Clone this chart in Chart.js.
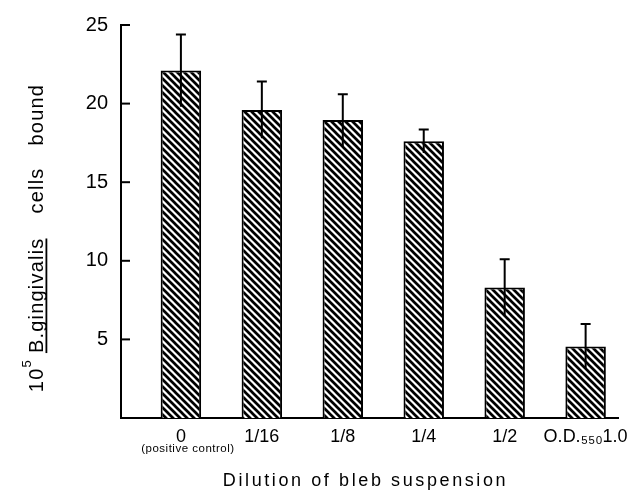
<!DOCTYPE html>
<html>
<head>
<meta charset="utf-8">
<style>
  html, body { margin: 0; padding: 0; background: #fff; }
  #wrap { width: 635px; height: 492px; }
</style>
</head>
<body>
<div id="wrap"><canvas id="chart" width="635" height="492"></canvas></div>
<script src="https://cdn.jsdelivr.net/npm/chart.js@4.4.1/dist/chart.umd.min.js"></script>
<script>
// values
var categories = ['0', '1/16', '1/8', '1/4', '1/2', 'O.D.\u2085\u2085\u20801.0'];
var subLabel = '(positive control)';
var means = [22.1, 19.6, 18.95, 17.6, 8.3, 4.55];
var errors = [2.3, 1.8, 1.65, 0.75, 1.8, 1.43];
var yTitleParts = ['10', '5', 'B.gingivalis', 'cells', 'bound'];
var xTitle = 'Dilution of bleb suspension';

var FONT = '"Liberation Sans", Arial, Helvetica, sans-serif';

function hatch() {
    var c = document.createElement('canvas');
    c.width = 7; c.height = 7;
    var g = c.getContext('2d');
    g.fillStyle = '#fff';
    g.fillRect(0, 0, 7, 7);
    g.strokeStyle = '#000';
    g.lineWidth = 2.7;
    g.beginPath();
    g.moveTo(-2, -2); g.lineTo(9, 9);
    g.moveTo(-9, -2); g.lineTo(2, 9);
    g.moveTo(5, -2); g.lineTo(16, 9);
    g.stroke();
    return g.createPattern(c, 'repeat');
}

var extras = {
    id: 'extras',
    afterDatasetsDraw: function(chart) {
        var ctx = chart.ctx, x = chart.scales.x, y = chart.scales.y;
        ctx.save();
        ctx.strokeStyle = '#000';
        ctx.lineWidth = 2;
        // error bars, cap on top only
        means.forEach(function(m, i) {
            var px = x.getPixelForValue(i);
            var top = y.getPixelForValue(m + errors[i]);
            var bot = y.getPixelForValue(m - errors[i]);
            ctx.beginPath();
            ctx.moveTo(px, bot); ctx.lineTo(px, top);
            ctx.moveTo(px - 5, top); ctx.lineTo(px + 5, top);
            ctx.stroke();
        });
        // inward y ticks
        y.ticks.forEach(function(t) {
            if (t.value === 0) return;
            var py = y.getPixelForValue(t.value);
            ctx.beginPath();
            ctx.moveTo(chart.chartArea.left, py);
            ctx.lineTo(chart.chartArea.left + 9, py);
            ctx.stroke();
        });
        ctx.restore();
    },
    afterDraw: function(chart) {
        var ctx = chart.ctx, x = chart.scales.x, area = chart.chartArea;
        ctx.save();
        ctx.fillStyle = '#000';
        ctx.textAlign = 'center';
        ctx.textBaseline = 'middle';
        // sub label under the first category
        ctx.font = '11.5px ' + FONT;
        ctx.letterSpacing = '0.5px';
        ctx.fillText(subLabel, x.getPixelForValue(0) + 7, 449);

        // x title
        ctx.font = '18px ' + FONT;
        ctx.letterSpacing = '2.6px';
        ctx.fillText(xTitle, (area.left + area.right) / 2 - 4, 481);

        // rotated y title
        ctx.translate(43, 238);
        ctx.rotate(-Math.PI / 2);
        ctx.textAlign = 'left';
        ctx.textBaseline = 'alphabetic';
        ctx.letterSpacing = '1.2px';
        var big = '20px ' + FONT, sup = '13px ' + FONT;
        var fonts = [big, sup, big, big, big];
        var gaps = [0, 6, 24, 22, 0];
        var widths = yTitleParts.map(function(t, i) {
            ctx.font = fonts[i];
            return ctx.measureText(t).width;
        });
        var total = 0;
        widths.forEach(function(w, i) { total += w + gaps[i]; });
        var u = -total / 2;
        yTitleParts.forEach(function(t, i) {
            ctx.font = fonts[i];
            ctx.fillText(t, u, i === 1 ? -12 : 0);
            if (i === 2) ctx.fillRect(u, 2.5, widths[i] - 1, 1.8);
            u += widths[i] + gaps[i];
        });
        ctx.restore();
    }
};

var pattern = hatch();

new Chart(document.getElementById('chart'), {
    type: 'bar',
    data: {
        datasets: [{
            data: means.map(function(m, i) { return { x: i, y: m }; }),
            backgroundColor: pattern,
            borderColor: '#000',
            borderWidth: 2,
            barPercentage: 0.5,
            categoryPercentage: 1
        }]
    },
    options: {
        responsive: false,
        animation: false,
        layout: { padding: { left: 0, top: 21, right: 17, bottom: 0 } },
        plugins: { legend: { display: false }, tooltip: { enabled: false } },
        scales: {
            x: {
                type: 'linear',
                offset: false,
                min: -0.74,
                max: 5.4,
                grid: { display: false, drawTicks: false },
                border: { display: true, color: '#000', width: 2 },
                ticks: {
                    stepSize: 1,
                    includeBounds: false,
                    autoSkip: false,
                    maxRotation: 0,
                    padding: 8,
                    color: '#000',
                    font: { family: FONT, size: 18 },
                    callback: function(v) {
                        var i = Math.round(v);
                        return Math.abs(v - i) < 1e-6 && categories[i] !== undefined ? categories[i] : '';
                    }
                },
                afterFit: function(s) {
                    s.height = 74;
                    s.paddingLeft = 0;
                    s.paddingRight = 0;
                }
            },
            y: {
                min: 0,
                max: 25,
                grid: { display: false, drawTicks: false },
                border: { display: true, color: '#000', width: 2 },
                ticks: {
                    stepSize: 5,
                    padding: 13,
                    color: '#000',
                    font: { family: FONT, size: 20 },
                    callback: function(v) { return v === 0 ? '' : v; }
                },
                afterFit: function(s) { s.width = 121; }
            }
        }
    },
    plugins: [extras]
});
</script>
</body>
</html>
